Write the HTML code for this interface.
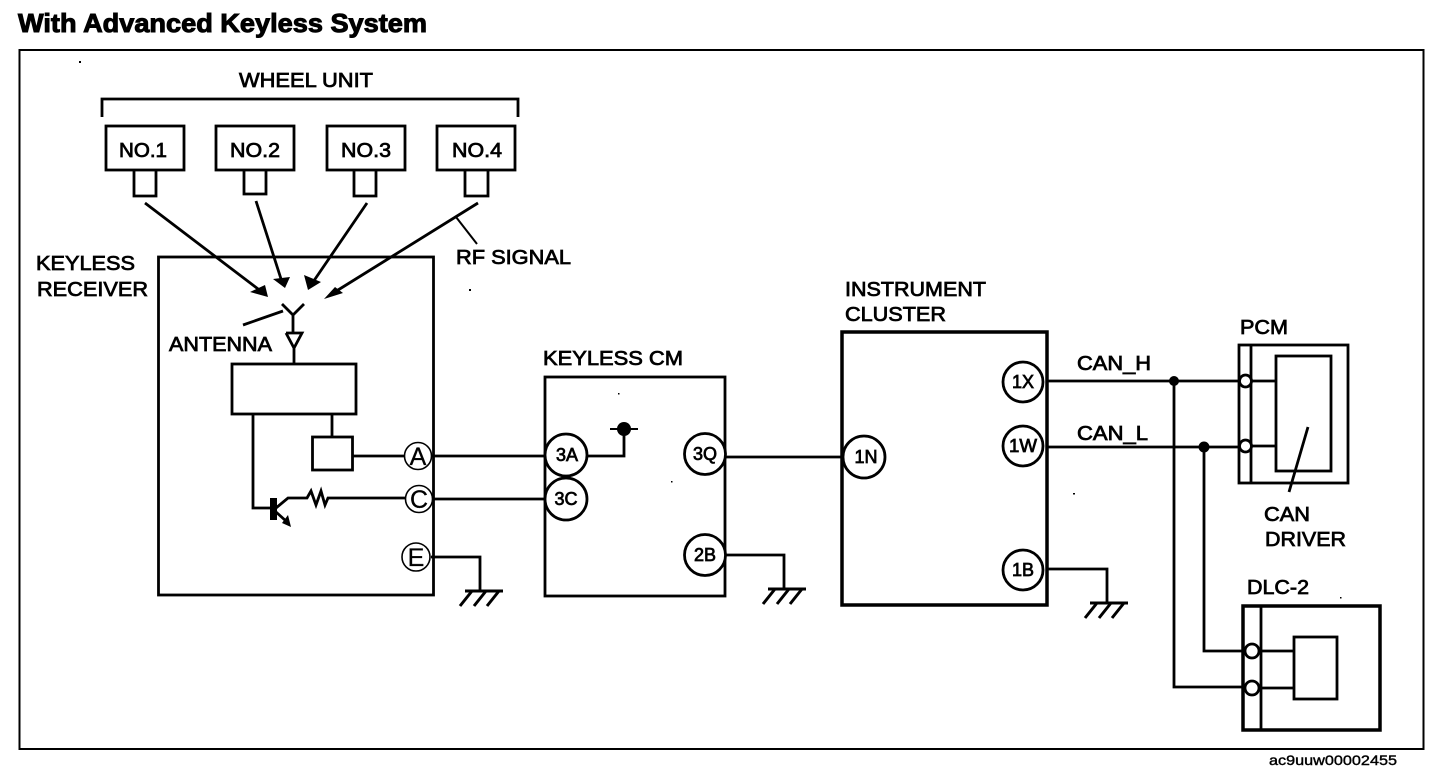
<!DOCTYPE html>
<html><head><meta charset="utf-8"><style>
html,body{margin:0;padding:0;background:#fff}
svg{display:block}
text{font-family:"Liberation Sans",sans-serif;fill:#000;stroke:#000;stroke-width:.75px}
.c{text-anchor:middle}
</style></head><body>
<svg width="1456" height="780" viewBox="0 0 1456 780" xmlns="http://www.w3.org/2000/svg">
<defs>
<g id="gnd" fill="none" stroke="#000" stroke-width="3">
<path d="M0 0H38M7 0L-5 15M21 0L9 15M34 0L22 15"/>
</g>
</defs>
<rect width="1456" height="780" fill="#fff"/>
<text x="18" y="32" font-size="26" font-weight="bold" textLength="409" lengthAdjust="spacingAndGlyphs" style="stroke-width:1px">With Advanced Keyless System</text>
<rect x="19.500" y="50" width="1404" height="699" fill="none" stroke="#000" stroke-width="2"/>
<g fill="none" stroke="#000" stroke-width="2.800">
<path d="M102 117V99H518V117"/>
<rect x="106" y="126" width="78" height="44"/><rect x="216" y="126" width="78" height="44"/><rect x="327" y="126" width="78" height="44"/><rect x="437" y="126" width="78" height="44"/>
<path d="M134 170V196H156V170M244 170V194H266V170M354 170V196H376V170M465 170V196H488V170"/>
<rect x="158.500" y="257" width="275" height="338"/>
<rect x="232" y="364" width="124" height="50"/>
<rect x="312.500" y="437" width="40" height="33"/>
<rect x="545" y="377" width="180" height="219"/>
<rect x="842" y="332" width="205" height="273" stroke-width="3.500"/>
<rect x="1239" y="345" width="109" height="138"/>
<rect x="1276" y="356" width="55" height="115"/>
<rect x="1243" y="606" width="137" height="124" stroke-width="3.500"/>
<rect x="1294" y="637" width="43" height="62"/>
<path d="M1251 345V483M1261 606V730"/>
</g>
<g fill="none" stroke="#000" stroke-width="2.800">
<path d="M145 203L262 292M256 201L282 282M367 203L311 285M478 203L330 295"/>
<path d="M282 304L293 315L304 304M293 315V333M286 333H302L294 348L286 333M294 348V364"/>
<path d="M243 325L283 311"/>
<path d="M332 414V437M253 414V508H272"/>
<path d="M276 508L288 498H307L311 491L316 505L321 491L325 505L328 498H405"/>
<path d="M276 512L286 521"/>
<path d="M352 456H405M431 456H545M431 499H545M431 557H480V591"/>
<path d="M585 456H624V432M725 457H843"/>
<path d="M725 555H784V588"/>
<path d="M1047 569H1107V602"/>
<path d="M1047 381H1240M1047 447H1240M1174 381V687H1245M1204 447V651H1245"/>
<path d="M1251 381H1276M1251 446H1276M1259 651H1294M1259 688H1294"/>
<path d="M1308 427L1289 492"/>
<path d="M610 429H638" stroke-width="2"/>
<path d="M456 217L477 244" stroke-width="2"/>
</g>
<g fill="#000">
<path d="M268 297L250 292L265 285ZM285 288L273 279L290 277ZM308 290L304 275L321 282ZM324 299L335 287L343 293ZM291 527L282 523L288 515Z"/>
<rect x="270" y="498" width="7" height="22"/>
<circle cx="624" cy="429" r="7"/>
<circle cx="1174" cy="381" r="5"/><circle cx="1204" cy="447" r="5.500"/>
</g>
<use href="#gnd" x="465" y="591"/><use href="#gnd" x="768" y="589"/><use href="#gnd" x="1090" y="603"/>
<g fill="#fff" stroke="#000" stroke-width="1.600">
<circle cx="418" cy="456" r="13.500"/><circle cx="419" cy="499" r="13.500"/><circle cx="416" cy="557" r="14"/>
</g>
<g fill="#fff" stroke="#000" stroke-width="2.800">
<circle cx="566" cy="455" r="21"/><circle cx="566" cy="499" r="21"/><circle cx="705" cy="454" r="20.500"/><circle cx="705" cy="555" r="20.500"/>
<circle cx="864" cy="457" r="21"/><circle cx="1023" cy="382" r="20"/><circle cx="1023" cy="446" r="20"/><circle cx="1023" cy="570" r="20"/>
<circle cx="1245.500" cy="381" r="6"/><circle cx="1245.500" cy="446" r="6"/><circle cx="1252" cy="651" r="7"/><circle cx="1252" cy="688" r="7"/>
</g>
<g font-size="20">
<text x="239" y="87" textLength="134" lengthAdjust="spacingAndGlyphs">WHEEL UNIT</text>
<text x="119" y="157" textLength="48" lengthAdjust="spacingAndGlyphs">NO.1</text>
<text x="230" y="157" textLength="50" lengthAdjust="spacingAndGlyphs">NO.2</text>
<text x="341" y="157" textLength="50" lengthAdjust="spacingAndGlyphs">NO.3</text>
<text x="452" y="157" textLength="50" lengthAdjust="spacingAndGlyphs">NO.4</text>
<text x="456" y="264" textLength="115" lengthAdjust="spacingAndGlyphs">RF SIGNAL</text>
<text x="36" y="270" textLength="99" lengthAdjust="spacingAndGlyphs">KEYLESS</text>
<text x="37" y="296" textLength="111" lengthAdjust="spacingAndGlyphs">RECEIVER</text>
<text x="169" y="351" textLength="103" lengthAdjust="spacingAndGlyphs">ANTENNA</text>
<text x="543" y="365" textLength="140" lengthAdjust="spacingAndGlyphs">KEYLESS CM</text>
<text x="845" y="296" textLength="141" lengthAdjust="spacingAndGlyphs">INSTRUMENT</text>
<text x="845" y="321" textLength="101" lengthAdjust="spacingAndGlyphs">CLUSTER</text>
<text x="1077" y="370" textLength="74" lengthAdjust="spacingAndGlyphs">CAN_H</text>
<text x="1077" y="440" textLength="71" lengthAdjust="spacingAndGlyphs">CAN_L</text>
<text x="1240" y="334" textLength="48" lengthAdjust="spacingAndGlyphs">PCM</text>
<text x="1264" y="521" textLength="46" lengthAdjust="spacingAndGlyphs">CAN</text>
<text x="1265" y="546" textLength="81" lengthAdjust="spacingAndGlyphs">DRIVER</text>
<text x="1247" y="594" textLength="62" lengthAdjust="spacingAndGlyphs">DLC-2</text>
</g>
<g font-size="25" style="">
<text class="c" x="418" y="465" style="stroke-width:.3px">A</text>
<text class="c" x="419" y="508" style="stroke-width:.3px">C</text>
<text class="c" x="416" y="566" style="stroke-width:.3px">E</text>
</g>
<g font-size="18">
<text class="c" x="567" y="461">3A</text><text class="c" x="566" y="505">3C</text>
<text class="c" x="705" y="460">3Q</text><text class="c" x="705" y="561">2B</text>
<text class="c" x="866" y="463">1N</text><text class="c" x="1023" y="388">1X</text>
<text class="c" x="1023" y="452" textLength="28" lengthAdjust="spacingAndGlyphs">1W</text><text class="c" x="1023" y="576">1B</text>
</g>
<text x="1269" y="765" font-size="14" textLength="128" lengthAdjust="spacingAndGlyphs" style="stroke-width:.4px">ac9uuw00002455</text>
<g fill="#000"><rect x="79" y="61" width="2" height="2"/><rect x="469" y="289" width="2" height="2"/><rect x="618" y="393" width="1.500" height="1.500"/><rect x="671" y="481" width="1.500" height="1.500"/><rect x="1073" y="493" width="2" height="1.500"/><rect x="1340" y="597" width="1.500" height="1.500"/></g>
</svg>
</body></html>
